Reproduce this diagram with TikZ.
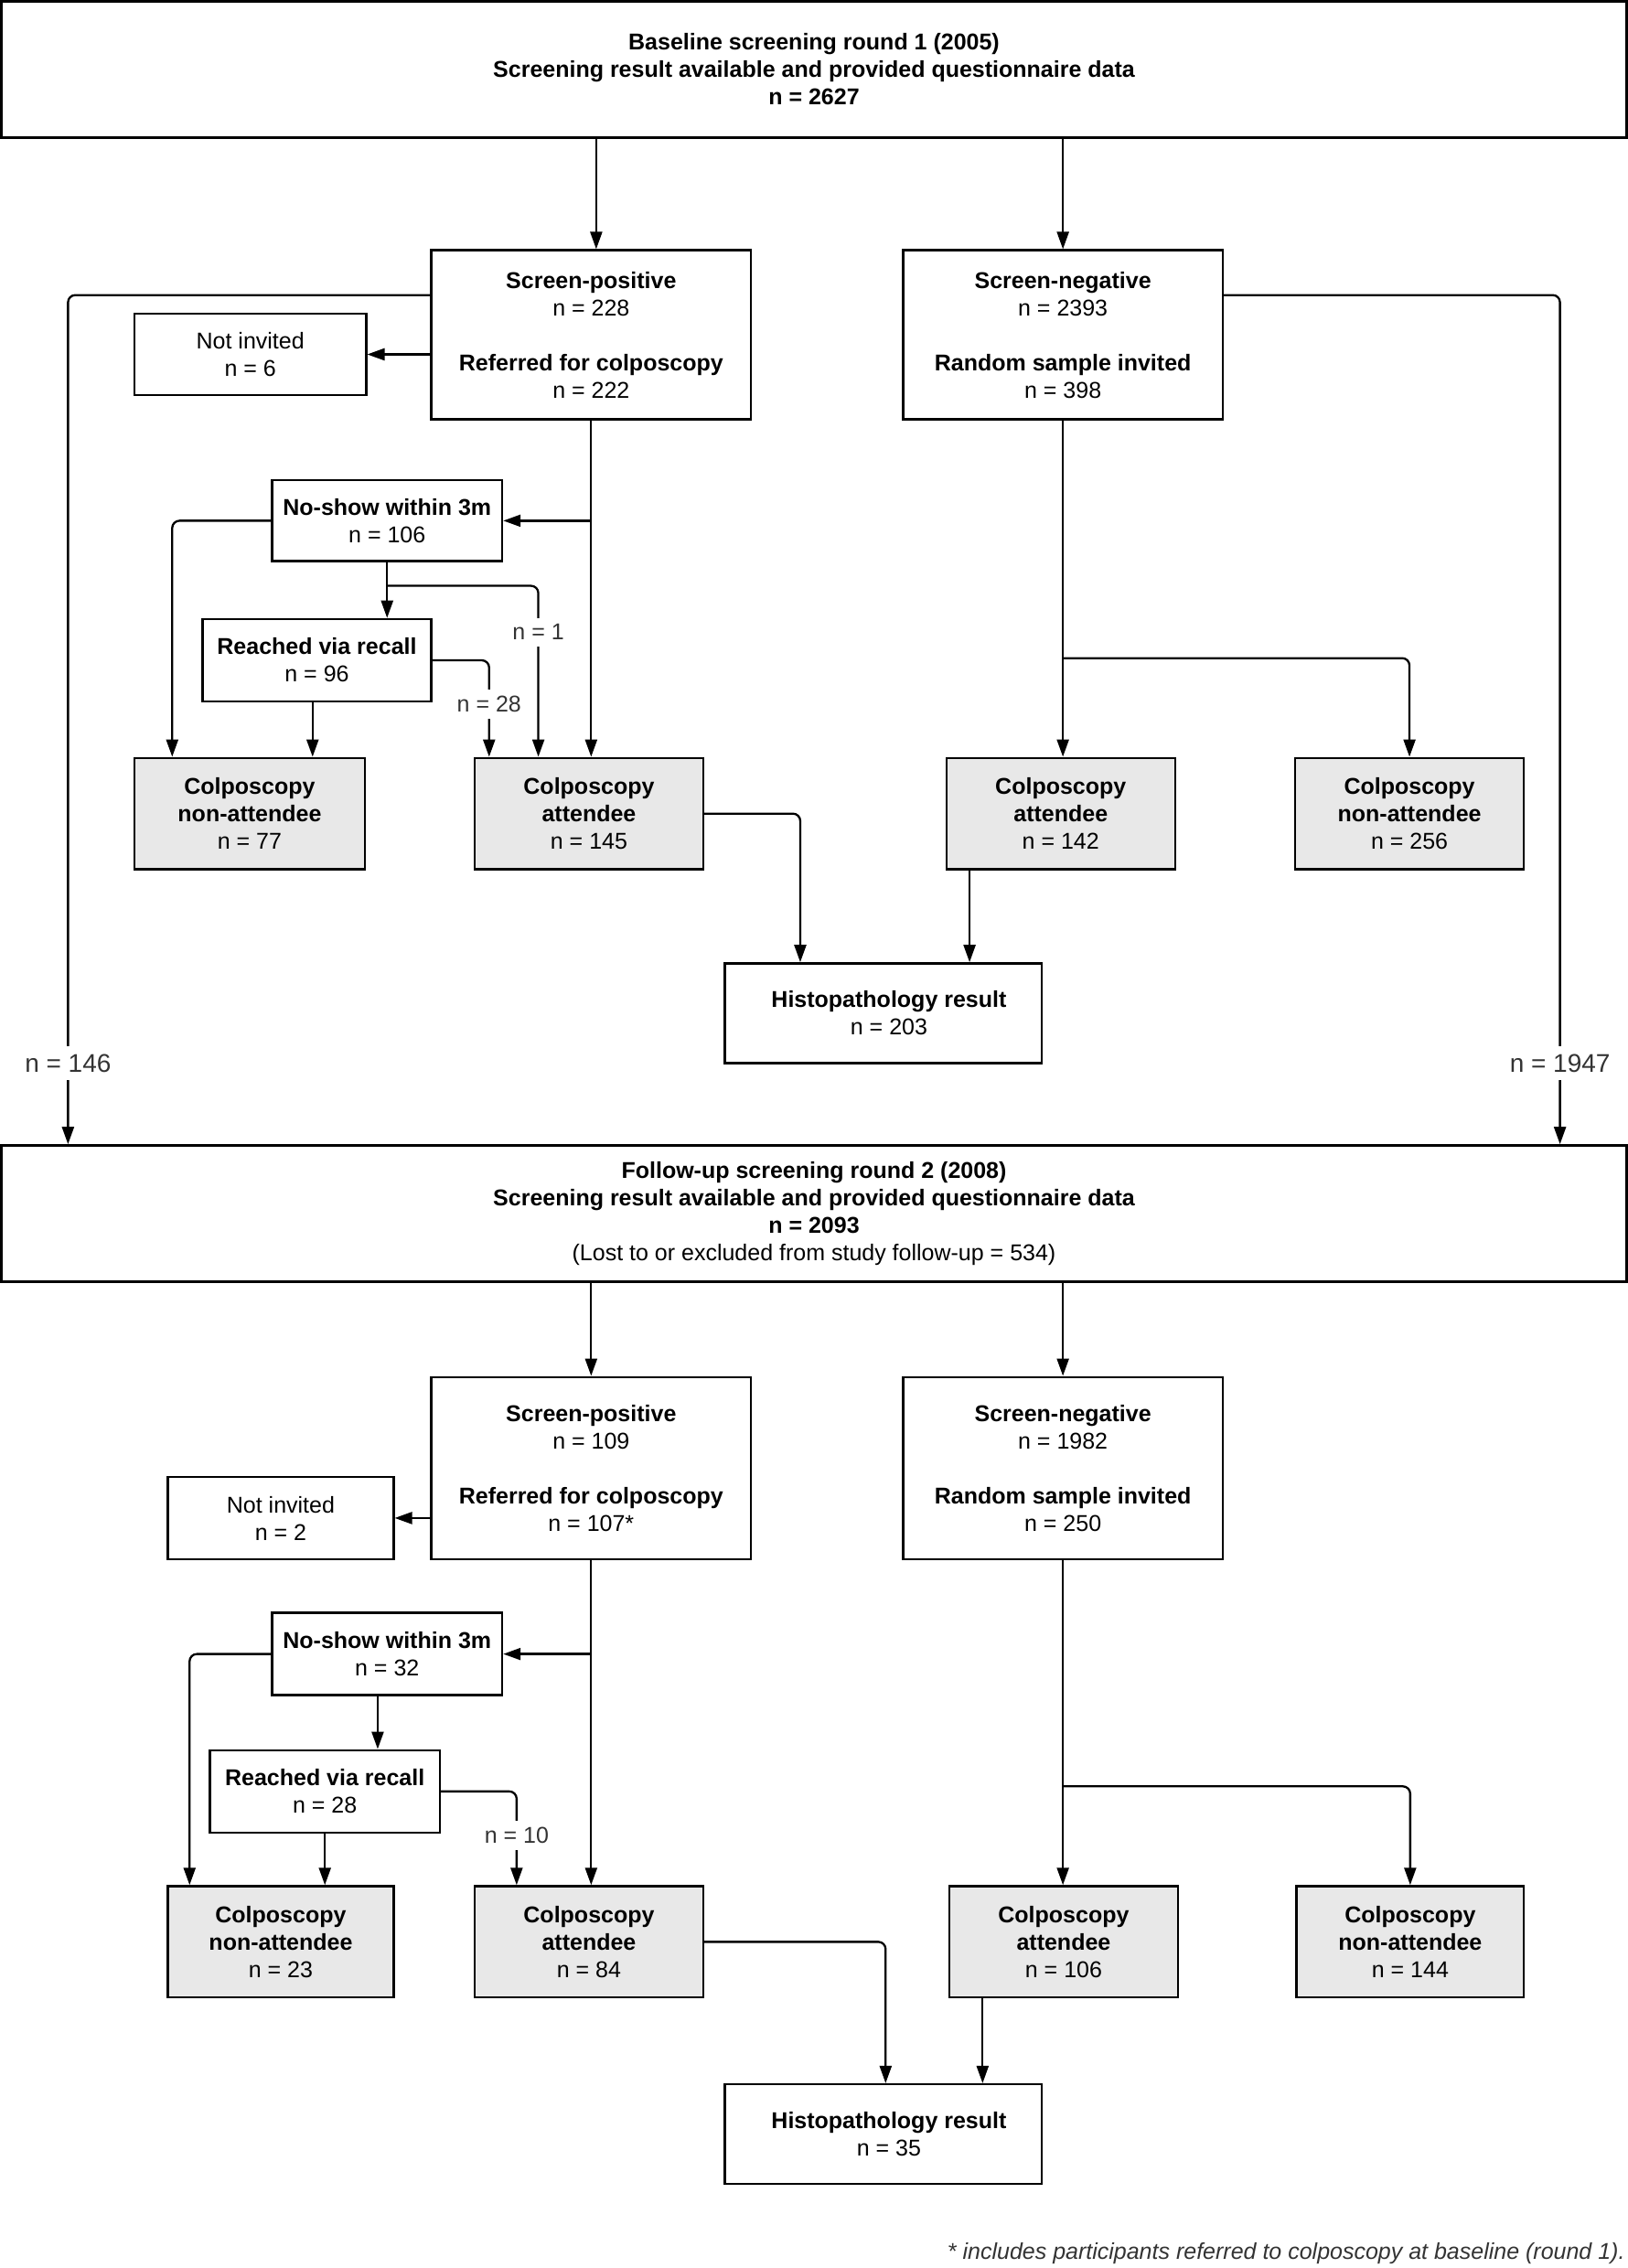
\documentclass[tikz,border=0pt]{standalone}
\usepackage{fontspec}
\setmainfont{Liberation Sans}
\usetikzlibrary{arrows.meta}
\definecolor{gfill}{HTML}{E8E8E8}
\definecolor{lbl}{HTML}{333333}
\newcommand\mkbox[7][]{%
  \pgfmathsetmacro\bw{(#5-#3)*1.58222}%
  \pgfmathsetmacro\bh{(#6-#4)*1.58163}%
  \node[box,#1,minimum width=\bw pt,minimum height=\bh pt] (#2) at ({(#3+#5)/2},{(#4+#6)/2}) {#7};%
}
\tikzset{
 box/.style={draw=black, line width=2.4pt, fill=white, inner sep=0pt, align=center, font=\fontsize{25}{30}\selectfont, text=black},
 gbox/.style={fill=gfill},
 bigbox/.style={line width=3pt, font=\fontsize{25}{30}\selectfont\bfseries},
 arr/.style={line width=2.3pt, -{Triangle[length=19pt,width=13pt]}, rounded corners=8pt},
 lab/.style={fill=white, inner xsep=3pt, inner ysep=7pt, font=\fontsize{25}{30}\selectfont, text=lbl},
 biglab/.style={fill=white, inner xsep=4pt, inner ysep=9pt, font=\fontsize{28}{32}\selectfont, text=lbl},
}
\begin{document}
\begin{tikzpicture}[x=1.58222pt,y=-1.58163pt]
\useasboundingbox (0,0) rectangle (1125,1568);
% helper coordinates
\coordinate (x47) at (47,0);
\coordinate (x412) at (412,0);
\coordinate (x1078) at (1078,0);
\coordinate (x119) at (119,0);
\coordinate (x216) at (216,0);
\coordinate (x338) at (338,0);
\coordinate (x372) at (372,0);
\coordinate (x553) at (553,0);
\coordinate (x670) at (670,0);
\coordinate (x131) at (131,0);
\coordinate (x261) at (261,0);
\coordinate (x357) at (357,0);
\coordinate (x612) at (612,0);
\coordinate (x679) at (679,0);
\coordinate (y204) at (0,204);
\coordinate (y405) at (0,405);
\coordinate (y455) at (0,455);
\coordinate (y1235) at (0,1235);

% ---------- Round 1 ----------
\mkbox[bigbox]{top}{1}{1}{1124}{95}{Baseline screening round 1 (2005)\\Screening result available and provided questionnaire data\\n = 2627}
\mkbox{sp1}{298}{173}{519}{290}{\textbf{Screen-positive}\\n = 228\\[30pt]\textbf{Referred for colposcopy}\\n = 222}
\mkbox{sn1}{624}{173}{845}{290}{\textbf{Screen-negative}\\n = 2393\\[30pt]\textbf{Random sample invited}\\n = 398}
\mkbox{ni1}{93}{217}{253}{273}{Not invited\\n = 6}
\mkbox{ns1}{188}{332}{347}{388}{\textbf{No-show within 3m}\\n = 106}
\mkbox{rc1}{140}{428}{298}{485}{\textbf{Reached via recall}\\n = 96}
\mkbox[gbox]{na1}{93}{524}{252}{601}{\textbf{Colposcopy}\\\textbf{non-attendee}\\n = 77}
\mkbox[gbox]{att1}{328}{524}{486}{601}{\textbf{Colposcopy}\\\textbf{attendee}\\n = 145}
\mkbox[gbox]{sa1}{654}{524}{812}{601}{\textbf{Colposcopy}\\\textbf{attendee}\\n = 142}
\mkbox[gbox]{sna1}{895}{524}{1053}{601}{\textbf{Colposcopy}\\\textbf{non-attendee}\\n = 256}
\mkbox{h1}{501}{666}{720}{735}{\hspace{12pt}\textbf{Histopathology result}\\\hspace{12pt}n = 203}

% ---------- Round 2 ----------
\mkbox[bigbox]{fu}{1}{792}{1124}{886}{Follow-up screening round 2 (2008)\\Screening result available and provided questionnaire data\\n = 2093\\\mdseries (Lost to or excluded from study follow-up = 534)}
\mkbox{sp2}{298}{952}{519}{1078}{\textbf{Screen-positive}\\n = 109\\[30pt]\textbf{Referred for colposcopy}\\n = 107*}
\mkbox{sn2}{624}{952}{845}{1078}{\textbf{Screen-negative}\\n = 1982\\[30pt]\textbf{Random sample invited}\\n = 250}
\mkbox{ni2}{116}{1021}{272}{1078}{Not invited\\n = 2}
\mkbox{ns2}{188}{1115}{347}{1172}{\textbf{No-show within 3m}\\n = 32}
\mkbox{rc2}{145}{1210}{304}{1267}{\textbf{Reached via recall}\\n = 28}
\mkbox[gbox]{na2}{116}{1304}{272}{1381}{\textbf{Colposcopy}\\\textbf{non-attendee}\\n = 23}
\mkbox[gbox]{att2}{328}{1304}{486}{1381}{\textbf{Colposcopy}\\\textbf{attendee}\\n = 84}
\mkbox[gbox]{sa2}{656}{1304}{814}{1381}{\textbf{Colposcopy}\\\textbf{attendee}\\n = 106}
\mkbox[gbox]{sna2}{896}{1304}{1053}{1381}{\textbf{Colposcopy}\\\textbf{non-attendee}\\n = 144}
\mkbox{h2}{501}{1441}{720}{1510}{\hspace{12pt}\textbf{Histopathology result}\\\hspace{12pt}n = 35}

% ---------- Connectors round 1 ----------
\draw[arr] (top.south -| x412) -- (sp1.north -| x412);
\draw[arr] (top.south -| sn1.north) -- (sn1.north);
\draw[arr] (sp1.west |- y204) -| (fu.north -| x47);
\draw[arr] (sn1.east |- y204) -| (fu.north -| x1078);
\node[biglab] (l146) at (47,735) {n = 146};
\node[biglab] (l1947) at (1078,735) {n = 1947};
\draw[arr] (sp1.west |- ni1.east) -- (ni1.east);
\draw[arr] (sp1.south) -- (sp1.south |- att1.north);
\draw[arr] (sp1.south |- ns1.east) -- (ns1.east);
\draw[arr] (ns1.west) -| (na1.north -| x119);
\draw[arr] (ns1.south) -- (ns1.south |- rc1.north);
\draw[arr] (ns1.south |- y405) -| (att1.north -| x372);
\node[lab] (l1) at (372,437) {n = 1};
\draw[arr] (rc1.south -| x216) -- (na1.north -| x216);
\draw[arr] (rc1.east) -| (att1.north -| x338);
\node[lab] (l28) at (338,487) {n = 28};
\draw[arr] (sn1.south) -- (sn1.south |- sa1.north);
\draw[arr] (sn1.south |- y455) -| (sna1.north);
\draw[arr] (att1.east) -| (h1.north -| x553);
\draw[arr] (sa1.south -| x670) -- (h1.north -| x670);

% ---------- Connectors round 2 ----------
\draw[arr] (fu.south -| sp2.north) -- (sp2.north);
\draw[arr] (fu.south -| sn2.north) -- (sn2.north);
\draw[arr] (sp2.west |- ni2.east) -- (ni2.east);
\draw[arr] (sp2.south) -- (sp2.south |- att2.north);
\draw[arr] (sp2.south |- ns2.east) -- (ns2.east);
\draw[arr] (ns2.west) -| (na2.north -| x131);
\draw[arr] (ns2.south -| x261) -- (rc2.north -| x261);
\draw[arr] (rc2.south) -- (rc2.south |- na2.north);
\draw[arr] (rc2.east) -| (att2.north -| x357);
\node[lab] (l10) at (357,1269) {n = 10};
\draw[arr] (sn2.south) -- (sn2.south |- sa2.north);
\draw[arr] (sn2.south |- y1235) -| (sna2.north);
\draw[arr] (att2.east) -| (h2.north -| x612);
\draw[arr] (sa2.south -| x679) -- (h2.north -| x679);

% footnote
\node[anchor=east, font=\fontsize{25}{30}\selectfont\itshape, text=lbl, inner sep=0pt] (fn) at (1123,1558) {* includes participants referred to colposcopy at baseline (round 1).};
\end{tikzpicture}
\end{document}
